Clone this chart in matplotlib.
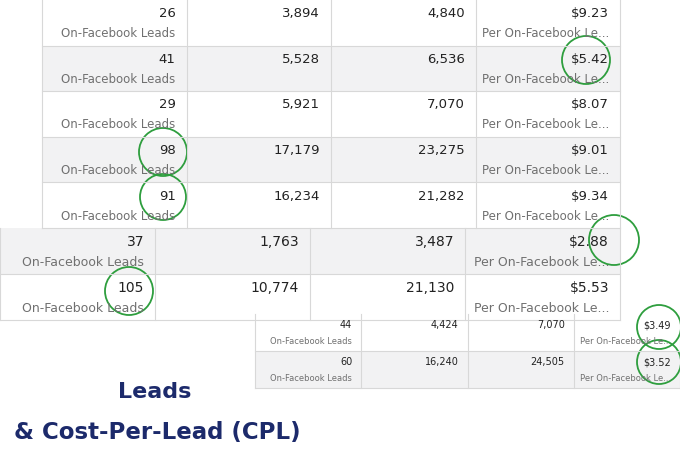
import matplotlib.pyplot as plt
from matplotlib.patches import Rectangle, Circle

# Table values (leads, col2, col3, cost per lead)
t1_leads = ["26", "41", "29", "98", "91"]
t1_col2 = ["3,894", "5,528", "5,921", "17,179", "16,234"]
t1_col3 = ["4,840", "6,536", "7,070", "23,275", "21,282"]
t1_cpl = ["$9.23", "$5.42", "$8.07", "$9.01", "$9.34"]

t2_leads = ["37", "105"]
t2_col2 = ["1,763", "10,774"]
t2_col3 = ["3,487", "21,130"]
t2_cpl = ["$2.88", "$5.53"]

t3_leads = ["44", "60"]
t3_col2 = ["4,424", "16,240"]
t3_col3 = ["7,070", "24,505"]
t3_cpl = ["$3.49", "$3.52"]

fig = plt.figure(figsize=(6.8, 4.58), dpi=100)
ax = fig.add_axes([0, 0, 1, 1])
ax.set_xlim(0, 680)
ax.set_ylim(458, 0)
ax.axis('off')

GRAY = '#f2f2f3'
LINE = '#d8d8d8'
TXT = '#222222'
SUB = '#707070'


def draw_table(x0, x1, y0, rowh, cols, shade_first, fs, sfs, pad):
    n = len(cols[0])
    xs = [x0 + (x1 - x0) * i / 4 for i in range(5)]
    for r in range(n):
        top = y0 + r * rowh
        shade = (r % 2 == 0) == shade_first
        ax.add_patch(Rectangle((x0, top), x1 - x0, rowh,
                               facecolor=GRAY if shade else 'white', edgecolor='none'))
        ax.plot([x0, x1], [top + rowh, top + rowh], color=LINE, lw=0.8)
        for c in range(4):
            xr = xs[c + 1] - pad
            ax.text(xr, top + rowh * 0.3, cols[c][r], ha='right', va='center',
                    fontsize=fs, color=TXT)
            if c == 0:
                ax.text(xr, top + rowh * 0.74, "On-Facebook Leads", ha='right',
                        va='center', fontsize=sfs, color=SUB)
            if c == 3:
                ax.text(xr, top + rowh * 0.74, "Per On-Facebook Le...", ha='right',
                        va='center', fontsize=sfs, color=SUB)
    for x in xs:
        ax.plot([x, x], [y0, y0 + n * rowh], color=LINE, lw=0.8)


draw_table(42, 620, 0, 45.6, [t1_leads, t1_col2, t1_col3, t1_cpl], False, 9.5, 8.5, 11)
draw_table(0, 620, 228, 46, [t2_leads, t2_col2, t2_col3, t2_cpl], True, 10, 9, 11)
draw_table(255, 680, 314, 37, [t3_leads, t3_col2, t3_col3, t3_cpl], False, 7, 6, 9)

# Highlight circles
GREEN = '#2e9e3e'
for cx, cy, rad in [(163, 152, 24), (163, 197, 23), (586, 60, 24), (614, 240, 25),
                    (129, 291, 24), (659, 327, 22), (659, 362, 22)]:
    ax.add_patch(Circle((cx, cy), rad, facecolor='none', edgecolor=GREEN, lw=1.3))

ax.text(155, 392, "Leads", ha='center', va='center', fontsize=16,
        fontweight='bold', color='#1c2a6b')
ax.text(157, 432, "& Cost-Per-Lead (CPL)", ha='center', va='center', fontsize=16.5,
        fontweight='bold', color='#1c2a6b')

fig.savefig('out.png', dpi=100)
